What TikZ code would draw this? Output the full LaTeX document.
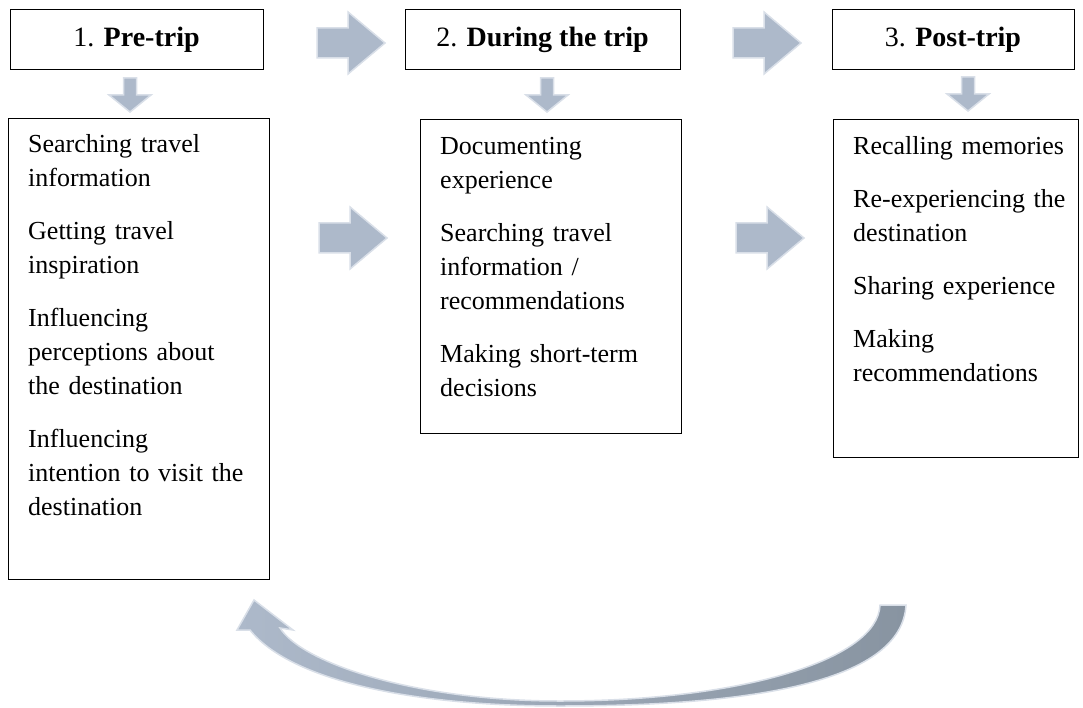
\documentclass[tikz,border=0pt]{standalone}
\usepackage{fontspec}
\setmainfont{Liberation Serif}
\usetikzlibrary{calc}

\definecolor{arrowfill}{HTML}{ADB9CA}
\definecolor{arrowedge}{HTML}{D9DFE8}
\definecolor{arrowdark}{HTML}{8894A1}

\tikzset{
  headbox/.style={draw=black, line width=1pt, minimum height=60pt, inner sep=0pt,
    font=\fontsize{28}{32}\selectfont},
  listbox/.style={draw=black, line width=1pt, inner sep=0pt},
  listtext/.style={anchor=base west, align=left, inner sep=0pt,
    font=\fontsize{26}{34}\selectfont},
  blockarrow/.style={fill=arrowfill, draw=arrowedge, line width=1.5pt, line join=miter},
  pics/rightarrow/.style={code={
    \path[blockarrow] (-34,-15) -- (-3,-15) -- (-3,-31) -- (34,0) -- (-3,31)
      -- (-3,15) -- (-34,15) -- cycle;}},
  pics/downarrow/.style={code={
    \path[blockarrow] (-6.5,-17) -- (6.5,-17) -- (6.5,0) -- (21,0) -- (0,17)
      -- (-21,0) -- (-6.5,0) -- cycle;}}
}

\begin{document}
\begin{tikzpicture}[x=1pt, y=-1pt]
  \useasboundingbox (0,0) rectangle (1083,708);

  % stage headers
  \node[headbox, minimum width=253pt] (h1) at (136.5,40) {1. \textbf{Pre-trip}};
  \node[headbox, minimum width=275pt] (h2) at (542.5,40) {2. \textbf{During the trip}};
  \node[headbox, minimum width=242pt] (h3) at (953,40) {3. \textbf{Post-trip}};

  % activity boxes
  \node[listbox, minimum width=261pt, minimum height=461pt, anchor=north west] (c1) at (8,118) {};
  \node[listbox, minimum width=261pt, minimum height=314pt, anchor=north west] (c2) at (420,119) {};
  \node[listbox, minimum width=245pt, minimum height=338pt, anchor=north west] (c3) at (833,119) {};

  \node[listtext, text width=235pt] (t1) at ($(c1.north west)+(20,35)$)
    {Searching travel\\information\\[19pt]Getting travel\\inspiration\\[19pt]Influencing\\perceptions about\\the destination\\[19pt]Influencing\\intention to visit the\\destination};
  \node[listtext, text width=235pt] (t2) at ($(c2.north west)+(20,36)$)
    {Documenting\\experience\\[19pt]Searching travel\\information /\\recommendations\\[19pt]Making short-term\\decisions};
  \node[listtext, text width=220pt] (t3) at ($(c3.north west)+(20,36)$)
    {Recalling memories\\[19pt]Re-experiencing the\\destination\\[19pt]Sharing experience\\[19pt]Making\\recommendations};

  % block arrows between stages
  \pic at (351,43) {rightarrow};
  \pic at (767,43) {rightarrow};
  \pic at (353,238) {rightarrow};
  \pic at (770,238) {rightarrow};

  % block arrows from headers down to boxes
  \pic at (130,95) {downarrow};
  \pic at (547,95) {downarrow};
  \pic at (968,94) {downarrow};

  % curved return arrow from post-trip back to pre-trip
  \path[draw=arrowedge, line width=1.5pt, line join=miter,
        left color=arrowfill, middle color=arrowfill, right color=arrowdark]
    (906,605) .. controls (902,680) and (760,706) .. (560,706)
    .. controls (410,706) and (290,680) .. (250,630)
    -- (237,630) -- (254,600) -- (293,630) -- (280,628)
    .. controls (302,663) and (415,701) .. (560,701)
    .. controls (740,701) and (878,660) .. (880,605)
    -- cycle;
\end{tikzpicture}
\end{document}
